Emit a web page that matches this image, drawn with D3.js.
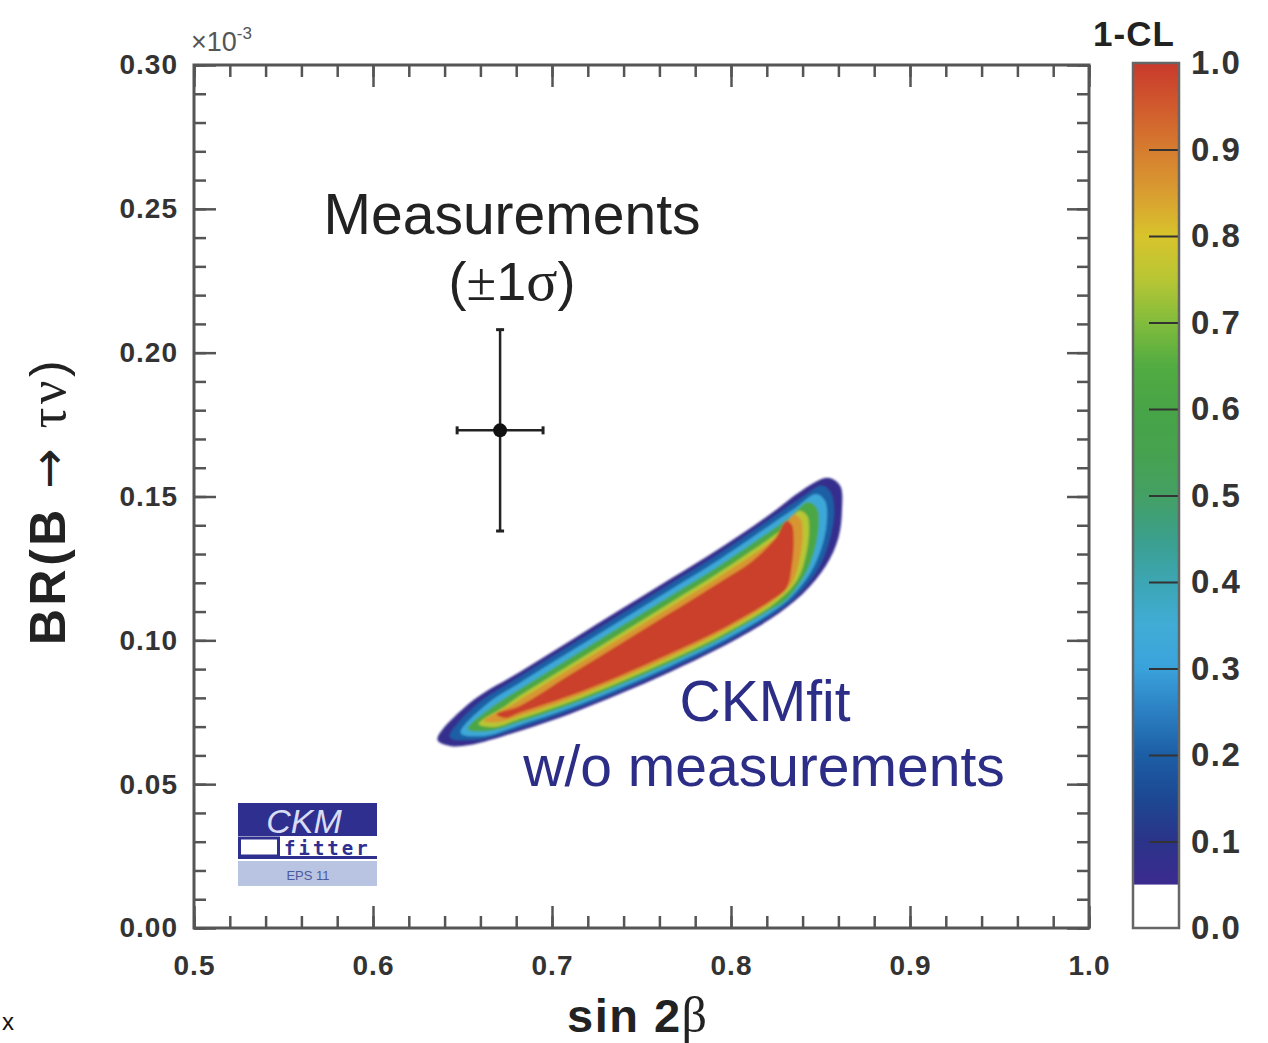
<!DOCTYPE html>
<html>
<head>
<meta charset="utf-8">
<script src="https://cdn.jsdelivr.net/npm/d3@7"></script>
<style>
  html, body { margin: 0; padding: 0; background: #fff; }
  svg { display: block; }
  text { font-family: "Liberation Sans", Arial, Helvetica, sans-serif; }
</style>
</head>
<body>
<div id="chart"></div>
<script>
// ---------------------------//
//            DATA            //
// ---------------------------//

// axis ticks and labels (y in units of 10^-3)
const xMajor = [0.5, 0.6, 0.7, 0.8, 0.9, 1.0];
const xLabels = ["0.5", "0.6", "0.7", "0.8", "0.9", "1.0"];
const yMajor = [0.00, 0.05, 0.10, 0.15, 0.20, 0.25, 0.30];
const yLabels = ["0.00", "0.05", "0.10", "0.15", "0.20", "0.25", "0.30"];
const cbTicks = [0.0, 0.1, 0.2, 0.3, 0.4, 0.5, 0.6, 0.7, 0.8, 0.9, 1.0];
const cbLabels = ["0.0", "0.1", "0.2", "0.3", "0.4", "0.5", "0.6", "0.7", "0.8", "0.9", "1.0"];

// measurement: sin2beta and BR(B -> tau nu)
const measX = [0.671, 0.024];   // value, error
const measY = [0.173, 0.035];   // value, error (x10^-3)

// 1-CL colour palette
const stopCL = [0.05, 0.10, 0.15, 0.20, 0.25, 0.30, 0.35, 0.40, 0.45, 0.50,
                0.55, 0.60, 0.65, 0.70, 0.75, 0.80, 0.85, 0.90, 0.95, 1.00];
const stopColor = ["#3b2a8f", "#2b3389", "#1d4893", "#1c5ea5", "#2b80c2", "#3aa2db", "#41acd6",
                   "#3ca6b4", "#3b9f8c", "#44a064", "#46a24e", "#48a447", "#52ac42", "#82bc3c",
                   "#b8c634", "#d8c42c", "#d99d30", "#d67c2f", "#d15a2d", "#c9392c"];

// contour outlines of the fit (x = sin2beta, y = BR x10^-3)
const cl05 = [[0.636,0.0654],[0.654,0.0782],[0.682,0.0890],[0.710,0.0998],[0.738,0.1106],[0.766,0.1213],[0.794,0.1321],[0.822,0.1439],[0.840,0.1523],[0.854,0.1565],[0.861,0.1537],[0.862,0.1453],[0.860,0.1356],[0.853,0.1259],[0.840,0.1161],[0.822,0.1074],[0.794,0.0974],[0.766,0.0890],[0.738,0.0814],[0.710,0.0744],[0.682,0.0685],[0.654,0.0636],[0.643,0.0633]];
const cl15 = [[0.643,0.0664],[0.657,0.0772],[0.682,0.0873],[0.710,0.0981],[0.738,0.1088],[0.766,0.1196],[0.794,0.1304],[0.822,0.1422],[0.8385,0.1492],[0.851,0.1537],[0.856,0.1509],[0.8575,0.1439],[0.855,0.1349],[0.849,0.1252],[0.836,0.1151],[0.822,0.1085],[0.794,0.0984],[0.766,0.0901],[0.738,0.0824],[0.710,0.0755],[0.682,0.0695],[0.657,0.0654]];
const cl25 = [[0.649,0.0678],[0.663,0.0775],[0.682,0.0852],[0.710,0.0960],[0.738,0.1067],[0.766,0.1175],[0.794,0.1283],[0.822,0.1401],[0.836,0.1460],[0.8475,0.1509],[0.8525,0.1485],[0.8536,0.1426],[0.8514,0.1339],[0.8447,0.1238],[0.833,0.1147],[0.822,0.1095],[0.794,0.0994],[0.766,0.0911],[0.738,0.0834],[0.710,0.0765],[0.682,0.0706],[0.663,0.0668]];
const cl40 = [[0.653,0.0692],[0.668,0.0775],[0.682,0.0831],[0.710,0.0939],[0.738,0.1047],[0.766,0.1154],[0.794,0.1262],[0.822,0.1380],[0.833,0.1429],[0.843,0.1481],[0.848,0.1460],[0.849,0.1405],[0.847,0.1321],[0.841,0.1224],[0.830,0.1137],[0.822,0.1106],[0.794,0.1005],[0.766,0.0921],[0.738,0.0845],[0.710,0.0775],[0.682,0.0716],[0.665,0.0685]];
const cl70 = [[0.659,0.0709],[0.674,0.0772],[0.682,0.0807],[0.710,0.0914],[0.738,0.1022],[0.766,0.1130],[0.794,0.1238],[0.822,0.1356],[0.830,0.1394],[0.838,0.1450],[0.8425,0.1433],[0.8436,0.1384],[0.842,0.1300],[0.837,0.1210],[0.8246,0.1130],[0.794,0.1015],[0.766,0.0932],[0.738,0.0855],[0.710,0.0786],[0.682,0.0727],[0.668,0.0699]];
const cl80 = [[0.662,0.0720],[0.6765,0.0772],[0.682,0.0793],[0.710,0.0901],[0.738,0.1008],[0.766,0.1116],[0.794,0.1224],[0.822,0.1342],[0.8285,0.1380],[0.835,0.1436],[0.839,0.1419],[0.840,0.1370],[0.8385,0.1287],[0.834,0.1200],[0.8246,0.1141],[0.794,0.1026],[0.766,0.0942],[0.738,0.0866],[0.710,0.0796],[0.682,0.0737],[0.671,0.0716]];
const cl90 = [[0.669,0.0744],[0.682,0.0772],[0.710,0.0880],[0.738,0.0987],[0.766,0.1095],[0.794,0.1203],[0.812,0.1276],[0.8246,0.1353],[0.831,0.1415],[0.834,0.1401],[0.835,0.1349],[0.834,0.1262],[0.831,0.1182],[0.822,0.1137],[0.794,0.1036],[0.766,0.0953],[0.738,0.0876],[0.710,0.0807],[0.682,0.0748],[0.674,0.0730]];
const contourShapes = [cl05, cl15, cl25, cl40, cl70, cl80, cl90];
// 1-CL value of the band enclosed by each outline
const contourFillCL = [0.07, 0.20, 0.33, 0.62, 0.75, 0.86, 0.99];

// ---------------------------//
//        SETUP               //
// ---------------------------//
const margin = {top: 65, left: 194},
    width = 895,
    height = 863;

const svg = d3.select("#chart")
  .append("svg")
    .attr("width", 1268)
    .attr("height", 1043);

const g = svg.append("g")
    .attr("transform", `translate(${margin.left},${margin.top})`);

const x = d3.scaleLinear().domain([0.5, 1.0]).range([0, width]);
const y = d3.scaleLinear().domain([0, 0.30]).range([height, 0]);

const clColor = d3.scaleLinear().domain(stopCL).range(stopColor).interpolate(d3.interpolateRgb);

const axisColor = "#555";

// ---------------------------//
//        CONTOURS            //
// ---------------------------//
const defs = svg.append("defs");
defs.append("filter").attr("id", "soft")
  .append("feGaussianBlur").attr("stdDeviation", 0.8);

const line = d3.line()
  .x(d => x(d[0]))
  .y(d => y(d[1]))
  .curve(d3.curveCatmullRomClosed.alpha(0.5));

g.append("g")
    .attr("filter", "url(#soft)")
  .selectAll("path")
  .data(contourShapes)
  .join("path")
    .attr("d", line)
    .attr("fill", (d, i) => clColor(contourFillCL[i]))
    .attr("stroke", "none");

// ---------------------------//
//        AXES                //
// ---------------------------//
function styleAxis(sel) {
  sel.select(".domain").remove();
  sel.selectAll(".tick line").attr("stroke", axisColor).attr("stroke-width", 2.5);
  sel.selectAll(".tick text")
    .attr("fill", "#333")
    .style("font-size", "28px")
    .style("font-weight", "bold")
    .style("letter-spacing", "1px");
}

// minor ticks
g.append("g").attr("transform", `translate(0,${height})`)
  .call(d3.axisBottom(x).ticks(25).tickSize(-12).tickFormat("")).call(styleAxis);
g.append("g")
  .call(d3.axisTop(x).ticks(25).tickSize(-12).tickFormat("")).call(styleAxis);
g.append("g")
  .call(d3.axisLeft(y).ticks(30).tickSize(-12).tickFormat("")).call(styleAxis);
g.append("g").attr("transform", `translate(${width},0)`)
  .call(d3.axisRight(y).ticks(30).tickSize(-12).tickFormat("")).call(styleAxis);

// major ticks with labels
g.append("g").attr("transform", `translate(0,${height})`)
  .call(d3.axisBottom(x).tickValues(xMajor).tickSize(-22).tickPadding(27)
    .tickFormat((d, i) => xLabels[i])).call(styleAxis);
g.append("g")
  .call(d3.axisTop(x).tickValues(xMajor).tickSize(-22).tickFormat("")).call(styleAxis);
g.append("g")
  .call(d3.axisLeft(y).tickValues(yMajor).tickSize(-22).tickPadding(16)
    .tickFormat((d, i) => yLabels[i])).call(styleAxis);
g.append("g").attr("transform", `translate(${width},0)`)
  .call(d3.axisRight(y).tickValues(yMajor).tickSize(-22).tickFormat("")).call(styleAxis);

// frame
g.append("rect")
    .attr("width", width)
    .attr("height", height)
    .attr("fill", "none")
    .attr("stroke", axisColor)
    .attr("stroke-width", 3);

// exponent
const expo = g.append("text")
    .attr("x", -3)
    .attr("y", -14)
    .attr("fill", "#555")
    .style("font-size", "27px");
expo.append("tspan").text("\u00d710");
expo.append("tspan").attr("dy", -12).style("font-size", "17px").text("-3");

// axis titles
const xt = svg.append("text")
    .attr("x", 567)
    .attr("y", 1032)
    .attr("fill", "#222")
    .style("font-size", "47px")
    .style("font-weight", "bold")
    .style("letter-spacing", "1.5px");
xt.append("tspan").text("sin 2");
xt.append("tspan")
    .style("font-family", "'Liberation Serif', 'DejaVu Serif', serif")
    .style("font-weight", "normal")
    .style("font-size", "50px")
    .text("\u03b2");

const yt = svg.append("text")
    .attr("transform", "translate(65,645) rotate(-90)")
    .attr("fill", "#222")
    .style("font-size", "50px")
    .style("font-weight", "bold")
    .style("letter-spacing", "3.5px");
yt.append("tspan").text("BR(B ");
yt.append("tspan")
    .style("font-family", "'DejaVu Sans', sans-serif")
    .style("font-weight", "normal")
    .style("font-size", "48px")
    .text("\u2192");
yt.append("tspan")
    .style("font-family", "'Liberation Serif', 'DejaVu Serif', serif")
    .style("font-weight", "normal")
    .style("font-size", "52px")
    .text(" \u03c4\u03bd");
yt.append("tspan").style("font-weight", "normal").text(")");

// ---------------------------//
//        MEASUREMENT         //
// ---------------------------//
const meas = g.append("g").attr("stroke", "#222").attr("stroke-width", 2.5);
meas.append("line")
    .attr("x1", x(measX[0])).attr("x2", x(measX[0]))
    .attr("y1", y(measY[0] - measY[1])).attr("y2", y(measY[0] + measY[1]));
meas.append("line")
    .attr("x1", x(measX[0] - measX[1])).attr("x2", x(measX[0] + measX[1]))
    .attr("y1", y(measY[0])).attr("y2", y(measY[0]));
// caps
[measY[0] - measY[1], measY[0] + measY[1]].forEach(v => {
  meas.append("line")
      .attr("x1", x(measX[0]) - 4).attr("x2", x(measX[0]) + 4)
      .attr("y1", y(v)).attr("y2", y(v)).attr("stroke-width", 3);
});
[measX[0] - measX[1], measX[0] + measX[1]].forEach(v => {
  meas.append("line")
      .attr("x1", x(v)).attr("x2", x(v))
      .attr("y1", y(measY[0]) - 4).attr("y2", y(measY[0]) + 4).attr("stroke-width", 3);
});
meas.append("circle")
    .attr("cx", x(measX[0]))
    .attr("cy", y(measY[0]))
    .attr("r", 7)
    .attr("fill", "#111")
    .attr("stroke", "none");

// annotations
svg.append("text")
    .attr("x", 512).attr("y", 234)
    .attr("text-anchor", "middle")
    .attr("fill", "#222")
    .style("font-size", "57px")
    .text("Measurements");
const sig = svg.append("text")
    .attr("x", 512).attr("y", 300)
    .attr("text-anchor", "middle")
    .attr("fill", "#222")
    .style("font-size", "54px");
sig.append("tspan").text("(");
sig.append("tspan").style("font-family", "'Liberation Serif', serif").text("\u00b1");
sig.append("tspan").text("1");
sig.append("tspan").style("font-family", "'Liberation Serif', serif").style("font-size", "58px").text("\u03c3");
sig.append("tspan").text(")");

svg.append("text")
    .attr("x", 765).attr("y", 721)
    .attr("text-anchor", "middle")
    .attr("fill", "#2b2d86")
    .style("font-size", "57px")
    .text("CKMfit");
svg.append("text")
    .attr("x", 764).attr("y", 786)
    .attr("text-anchor", "middle")
    .attr("fill", "#2b2d86")
    .style("font-size", "57px")
    .text("w/o measurements");

// ---------------------------//
//        LOGO                //
// ---------------------------//
const logo = svg.append("g").attr("transform", "translate(238,803)");
logo.append("rect").attr("width", 139).attr("height", 33).attr("fill", "#2e2f8f");
logo.append("text")
    .attr("x", 66).attr("y", 30)
    .attr("text-anchor", "middle")
    .attr("fill", "#d8dcf4")
    .style("font-size", "34px")
    .style("font-style", "italic")
    .text("CKM");
logo.append("rect").attr("x", 0).attr("y", 33).attr("width", 139).attr("height", 22).attr("fill", "#fff");
logo.append("rect").attr("x", 1.5).attr("y", 35).attr("width", 39).attr("height", 18)
    .attr("fill", "#fff").attr("stroke", "#2e2f8f").attr("stroke-width", 3);
logo.append("rect").attr("x", 0).attr("y", 53).attr("width", 139).attr("height", 3).attr("fill", "#2e2f8f");
logo.append("text")
    .attr("x", 46).attr("y", 52)
    .attr("fill", "#2e2f8f")
    .style("font-family", "'DejaVu Sans Mono', 'Liberation Mono', monospace")
    .style("font-size", "19px")
    .style("font-weight", "bold")
    .style("letter-spacing", "3px")
    .text("fitter");
logo.append("rect").attr("x", 0).attr("y", 58).attr("width", 139).attr("height", 25).attr("fill", "#b9c3e2");
logo.append("text")
    .attr("x", 70).attr("y", 77)
    .attr("text-anchor", "middle")
    .attr("fill", "#4b5a9c")
    .style("font-size", "13px")
    .text("EPS 11");

// ---------------------------//
//        COLOR BAR           //
// ---------------------------//
const cbW = 46, cbH = 865;
const cb = svg.append("g").attr("transform", "translate(1133,63)");
const cbY = d3.scaleLinear().domain([0, 1]).range([cbH, 0]);

const grad = defs.append("linearGradient")
    .attr("id", "clgrad")
    .attr("x1", 0).attr("y1", 0).attr("x2", 0).attr("y2", 1);
grad.selectAll("stop")
  .data(stopCL.map((v, i) => ({v: v, c: stopColor[i]})).reverse())
  .join("stop")
    .attr("offset", d => (cbY(d.v) - cbY(1)) / (cbY(stopCL[0]) - cbY(1)))
    .attr("stop-color", d => d.c);

cb.append("rect")
    .attr("x", 0).attr("y", cbY(1))
    .attr("width", cbW).attr("height", cbY(stopCL[0]) - cbY(1))
    .attr("fill", "url(#clgrad)");
cb.append("rect")
    .attr("x", 0).attr("y", cbY(stopCL[0]))
    .attr("width", cbW).attr("height", cbY(0) - cbY(stopCL[0]))
    .attr("fill", "#fff");

const cbAxis = cb.append("g").attr("transform", `translate(${cbW},0)`)
  .call(d3.axisRight(cbY).tickValues(cbTicks).tickSize(-30).tickPadding(12)
    .tickFormat((d, i) => cbLabels[i]));
cbAxis.select(".domain").remove();
cbAxis.selectAll(".tick line")
    .attr("stroke", "#333").attr("stroke-width", 2)
    .attr("display", d => (d === 0 || d === 1) ? "none" : null);
cbAxis.selectAll(".tick text")
    .attr("fill", "#333")
    .style("font-size", "33px")
    .style("font-weight", "bold")
    .style("letter-spacing", "1.5px");

cb.append("rect")
    .attr("width", cbW).attr("height", cbH)
    .attr("fill", "none")
    .attr("stroke", "#666")
    .attr("stroke-width", 2.5);

svg.append("text")
    .attr("x", 1134).attr("y", 46)
    .attr("text-anchor", "middle")
    .attr("fill", "#222")
    .style("font-size", "35px")
    .style("font-weight", "bold")
    .style("letter-spacing", "1px")
    .text("1-CL");

// stray glyph at the lower left edge of the picture
svg.append("text")
    .attr("x", 2).attr("y", 1030)
    .attr("fill", "#111")
    .style("font-size", "24px")
    .text("x");
</script>
</body>
</html>
